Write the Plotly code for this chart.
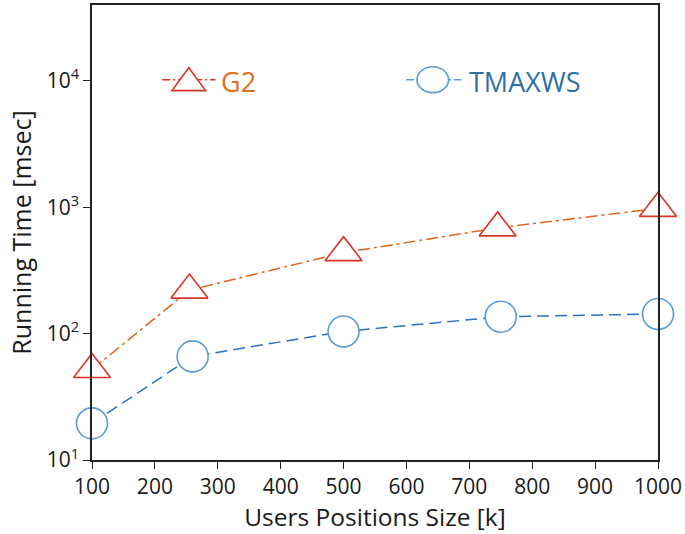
import plotly.graph_objects as go

# Data
g2_x = [100, 255, 500, 745, 1000]
g2_y = [52, 221, 437, 686, 980]
tm_x = [100, 260, 500, 750, 1000]
tm_y = [19.5, 66, 104, 136, 143]

x_ticks = [100, 200, 300, 400, 500, 600, 700, 800, 900, 1000]
y_tickvals = [10, 100, 1000, 10000]
y_ticktext = ["10<sup>1</sup>", "10<sup>2</sup>", "10<sup>3</sup>", "10<sup>4</sup>"]

G2_LINE = "#E0641E"
G2_MARK = "#D9342B"
TM_LINE = "#2A72C4"
TM_MARK = "#5B9BD5"
FONT = "Open Sans"

fig = go.Figure()
fig.add_trace(go.Scatter(
    x=g2_x, y=g2_y, mode="lines+markers", name="G2",
    line=dict(color=G2_LINE, width=1.5, dash="12px,4px,3px,4px"),
    marker=dict(symbol="triangle-up", size=32, color="white",
                line=dict(color=G2_MARK, width=1.6)),
    cliponaxis=False, showlegend=False))
fig.add_trace(go.Scatter(
    x=tm_x, y=tm_y, mode="lines+markers", name="TMAXWS",
    line=dict(color=TM_LINE, width=1.5, dash="12px,6px"),
    marker=dict(symbol="circle", size=31, color="white",
                line=dict(color=TM_MARK, width=1.6)),
    cliponaxis=False, showlegend=False))

# plot-area geometry (pixels) for the hand-drawn legend
L, R, T, B = 92, 665, 3, 460
def px(x):
    return (x - L) / (R - L)
def py(y):
    return (B - y) / (B - T)

shapes = []
# G2 legend entry
shapes.append(dict(type="line", xref="paper", yref="paper",
                   x0=px(163), x1=px(217), y0=py(78), y1=py(78),
                   line=dict(color=G2_MARK, width=1.5, dash="8px,3px,2px,3px")))
tri = "M {},{} L {},{} L {},{} Z".format(px(173), py(89), px(207), py(89), px(190), py(66))
shapes.append(dict(type="path", xref="paper", yref="paper", path=tri,
                   fillcolor="white", line=dict(color=G2_MARK, width=1.6)))
# TMAXWS legend entry
shapes.append(dict(type="line", xref="paper", yref="paper",
                   x0=px(410), x1=px(466), y0=py(78), y1=py(78),
                   line=dict(color=TM_MARK, width=1.5, dash="8px,3px,2px,3px")))
shapes.append(dict(type="circle", xref="paper", yref="paper",
                   x0=px(421), x1=px(453), y0=py(91), y1=py(65),
                   fillcolor="white", line=dict(color=TM_MARK, width=1.6)))

annotations = [
    dict(text="G2", xref="paper", yref="paper", x=px(221), y=py(80),
         xanchor="left", yanchor="middle", showarrow=False,
         font=dict(family=FONT, size=27, color="#E07020")),
    dict(text="TMAXWS", xref="paper", yref="paper", x=px(472), y=py(80),
         xanchor="left", yanchor="middle", showarrow=False,
         font=dict(family=FONT, size=27, color="#3070A8")),
]

fig.update_layout(
    width=685, height=534,
    margin=dict(l=L, r=685 - R, t=T, b=534 - B),
    paper_bgcolor="white", plot_bgcolor="white",
    shapes=shapes, annotations=annotations,
    font=dict(family=FONT, color="#1a1a1a"),
    xaxis=dict(range=[100, 1000], tickvals=x_ticks, ticks="outside", ticklen=7,
               tickwidth=1.3, tickcolor="#222", showline=True, linecolor="#222",
               linewidth=1.5, mirror=True, showgrid=False, zeroline=False,
               ticklabeloverflow="allow",
               tickfont=dict(size=21, family=FONT),
               title=dict(text="Users Positions Size [k]", standoff=4,
                          font=dict(size=24.5, family=FONT))),
    yaxis=dict(type="log", range=[1, 4.6], tickvals=y_tickvals, ticktext=y_ticktext,
               ticks="outside", ticklen=7, tickwidth=1.3, tickcolor="#222",
               showline=True, linecolor="#222", linewidth=1.5, mirror=True,
               showgrid=False, zeroline=False, ticklabeloverflow="allow",
               tickfont=dict(size=21, family=FONT),
               title=dict(text="Running Time [msec]", standoff=8,
                          font=dict(size=25, family=FONT))),
)

fig.write_html("out.html", config={"displayModeBar": False},
               post_script="document.body.style.margin='0';")
